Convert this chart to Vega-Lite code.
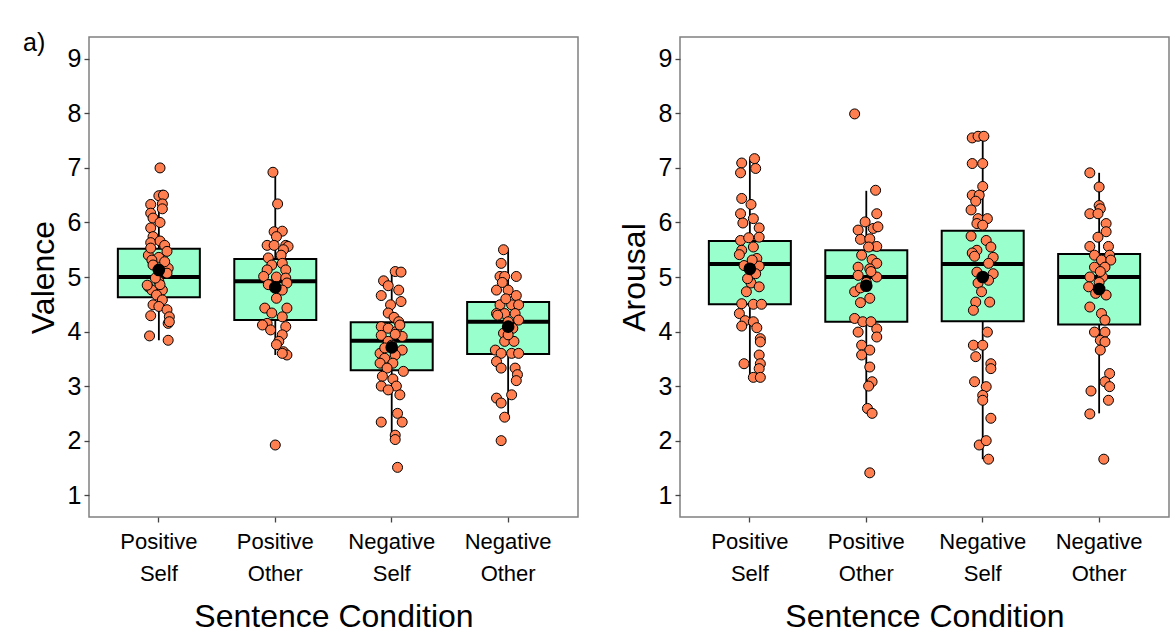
{
  "$schema": "https://vega.github.io/schema/vega-lite/v6.json",
  "background": "white",
  "padding": {"left": 22, "top": 30, "right": 4, "bottom": 0},
  "config": {
    "font": "Liberation Sans",
    "view": {"stroke": "#808080", "strokeWidth": 1.5},
    "axis": {"grid": false, "domain": false, "tickColor": "#444444", "tickSize": 5, "tickWidth": 1.3, "labelColor": "black", "titleColor": "black", "labelFont": "Liberation Sans", "titleFont": "Liberation Sans", "titleFontWeight": "normal"},
    "axisY": {"labelFontSize": 25, "titleFontSize": 32, "titlePadding": 7, "labelPadding": 3},
    "axisX": {"labelFontSize": 22, "titleFontSize": 32, "titlePadding": 17, "labelPadding": 9, "labelAngle": 0, "labelLineHeight": 32}
  },
  "datasets": {
    "valBox": [
      {"c": "Positive Self", "lo": 3.84, "q1": 4.63, "med": 5.0, "q3": 5.52, "hi": 6.5, "mean": 5.13},
      {"c": "Positive Other", "lo": 3.57, "q1": 4.21, "med": 4.92, "q3": 5.33, "hi": 6.92, "mean": 4.81},
      {"c": "Negative Self", "lo": 2.0, "q1": 3.29, "med": 3.83, "q3": 4.17, "hi": 5.1, "mean": 3.71},
      {"c": "Negative Other", "lo": 2.43, "q1": 3.59, "med": 4.18, "q3": 4.54, "hi": 5.5, "mean": 4.09}
    ],
    "aroBox": [
      {"c": "Positive Self", "lo": 3.16, "q1": 4.5, "med": 5.24, "q3": 5.66, "hi": 7.17, "mean": 5.15},
      {"c": "Positive Other", "lo": 2.5, "q1": 4.18, "med": 5.0, "q3": 5.49, "hi": 6.58, "mean": 4.84},
      {"c": "Negative Self", "lo": 1.66, "q1": 4.19, "med": 5.24, "q3": 5.85, "hi": 7.58, "mean": 5.0},
      {"c": "Negative Other", "lo": 2.5, "q1": 4.13, "med": 5.0, "q3": 5.42, "hi": 6.91, "mean": 4.78}
    ],
    "valPts": [
      {"c":"Positive Self","v":7.0,"j":0.01},{"c":"Positive Self","v":6.5,"j":0.03},{"c":"Positive Self","v":6.49,"j":0.0},{"c":"Positive Self","v":6.5,"j":0.04},{"c":"Positive Self","v":6.33,"j":-0.07},{"c":"Positive Self","v":6.34,"j":0.03},{"c":"Positive Self","v":6.25,"j":0.03},{"c":"Positive Self","v":6.17,"j":-0.07},{"c":"Positive Self","v":6.08,"j":-0.05},{"c":"Positive Self","v":6.0,"j":0.01},{"c":"Positive Self","v":5.9,"j":-0.07},{"c":"Positive Self","v":5.74,"j":-0.05},{"c":"Positive Self","v":5.63,"j":-0.07},{"c":"Positive Self","v":5.66,"j":0.01},{"c":"Positive Self","v":5.58,"j":0.05},{"c":"Positive Self","v":5.47,"j":0.07},{"c":"Positive Self","v":5.4,"j":-0.09},{"c":"Positive Self","v":5.36,"j":0.0},{"c":"Positive Self","v":5.31,"j":-0.06},{"c":"Positive Self","v":5.16,"j":0.08},{"c":"Positive Self","v":5.07,"j":0.07},{"c":"Positive Self","v":4.82,"j":-0.09},{"c":"Positive Self","v":4.92,"j":0.0},{"c":"Positive Self","v":4.76,"j":-0.06},{"c":"Positive Self","v":4.76,"j":0.03},{"c":"Positive Self","v":4.67,"j":-0.02},{"c":"Positive Self","v":4.58,"j":0.03},{"c":"Positive Self","v":4.49,"j":-0.05},{"c":"Positive Self","v":4.46,"j":0.0},{"c":"Positive Self","v":4.4,"j":0.07},{"c":"Positive Self","v":4.27,"j":0.09},{"c":"Positive Self","v":4.29,"j":-0.07},{"c":"Positive Self","v":4.15,"j":0.08},{"c":"Positive Self","v":4.18,"j":0.09},{"c":"Positive Self","v":3.92,"j":-0.08},{"c":"Positive Self","v":3.84,"j":0.08},{"c":"Positive Self","v":5.53,"j":-0.07},{"c":"Positive Self","v":5.22,"j":-0.05},{"c":"Positive Self","v":5.28,"j":0.05},{"c":"Positive Self","v":4.85,"j":-0.1},{"c":"Positive Self","v":4.86,"j":0.01},{"c":"Positive Self","v":4.98,"j":-0.03},
      {"c":"Positive Other","v":6.92,"j":-0.02},{"c":"Positive Other","v":6.34,"j":0.02},{"c":"Positive Other","v":5.83,"j":-0.01},{"c":"Positive Other","v":5.84,"j":0.06},{"c":"Positive Other","v":5.74,"j":0.01},{"c":"Positive Other","v":5.58,"j":-0.07},{"c":"Positive Other","v":5.58,"j":-0.01},{"c":"Positive Other","v":5.58,"j":0.09},{"c":"Positive Other","v":5.56,"j":0.11},{"c":"Positive Other","v":5.5,"j":0.07},{"c":"Positive Other","v":5.35,"j":-0.06},{"c":"Positive Other","v":5.4,"j":0.05},{"c":"Positive Other","v":5.22,"j":-0.03},{"c":"Positive Other","v":5.25,"j":0.06},{"c":"Positive Other","v":5.13,"j":-0.07},{"c":"Positive Other","v":5.13,"j":0.09},{"c":"Positive Other","v":5.01,"j":-0.1},{"c":"Positive Other","v":5.0,"j":0.01},{"c":"Positive Other","v":4.98,"j":0.09},{"c":"Positive Other","v":4.86,"j":-0.06},{"c":"Positive Other","v":4.89,"j":0.1},{"c":"Positive Other","v":4.76,"j":0.06},{"c":"Positive Other","v":4.61,"j":0.01},{"c":"Positive Other","v":4.43,"j":-0.09},{"c":"Positive Other","v":4.43,"j":0.1},{"c":"Positive Other","v":4.34,"j":-0.03},{"c":"Positive Other","v":4.27,"j":0.06},{"c":"Positive Other","v":4.15,"j":-0.07},{"c":"Positive Other","v":4.12,"j":-0.11},{"c":"Positive Other","v":4.09,"j":0.09},{"c":"Positive Other","v":4.03,"j":-0.04},{"c":"Positive Other","v":3.94,"j":0.06},{"c":"Positive Other","v":3.82,"j":0.03},{"c":"Positive Other","v":3.76,"j":0.01},{"c":"Positive Other","v":3.63,"j":0.07},{"c":"Positive Other","v":3.57,"j":0.1},{"c":"Positive Other","v":3.6,"j":0.06},{"c":"Positive Other","v":1.92,"j":0.0},
      {"c":"Negative Self","v":5.1,"j":0.03},{"c":"Negative Self","v":5.09,"j":0.08},{"c":"Negative Self","v":4.93,"j":-0.07},{"c":"Negative Self","v":4.84,"j":-0.03},{"c":"Negative Self","v":4.76,"j":0.06},{"c":"Negative Self","v":4.66,"j":-0.09},{"c":"Negative Self","v":4.55,"j":0.08},{"c":"Negative Self","v":4.49,"j":-0.01},{"c":"Negative Self","v":4.34,"j":-0.03},{"c":"Negative Self","v":4.26,"j":0.02},{"c":"Negative Self","v":4.18,"j":0.06},{"c":"Negative Self","v":4.09,"j":-0.09},{"c":"Negative Self","v":4.06,"j":-0.03},{"c":"Negative Self","v":4.0,"j":0.04},{"c":"Negative Self","v":3.93,"j":-0.09},{"c":"Negative Self","v":3.91,"j":0.09},{"c":"Negative Self","v":3.82,"j":-0.03},{"c":"Negative Self","v":3.66,"j":0.09},{"c":"Negative Self","v":3.6,"j":-0.1},{"c":"Negative Self","v":3.57,"j":0.03},{"c":"Negative Self","v":3.51,"j":-0.06},{"c":"Negative Self","v":3.42,"j":-0.1},{"c":"Negative Self","v":3.42,"j":0.01},{"c":"Negative Self","v":3.33,"j":-0.04},{"c":"Negative Self","v":3.27,"j":0.1},{"c":"Negative Self","v":3.18,"j":-0.08},{"c":"Negative Self","v":3.13,"j":0.01},{"c":"Negative Self","v":3.0,"j":-0.09},{"c":"Negative Self","v":3.0,"j":0.04},{"c":"Negative Self","v":2.93,"j":-0.03},{"c":"Negative Self","v":2.84,"j":0.07},{"c":"Negative Self","v":2.5,"j":0.05},{"c":"Negative Self","v":2.34,"j":-0.09},{"c":"Negative Self","v":2.34,"j":0.09},{"c":"Negative Self","v":2.1,"j":0.03},{"c":"Negative Self","v":2.02,"j":0.03},{"c":"Negative Self","v":1.51,"j":0.05},{"c":"Negative Self","v":3.75,"j":0.0},{"c":"Negative Self","v":3.7,"j":-0.06},{"c":"Negative Self","v":3.95,"j":0.03},{"c":"Negative Self","v":4.12,"j":0.07},
      {"c":"Negative Other","v":5.5,"j":-0.04},{"c":"Negative Other","v":5.25,"j":-0.06},{"c":"Negative Other","v":5.01,"j":-0.07},{"c":"Negative Other","v":5.01,"j":-0.03},{"c":"Negative Other","v":5.01,"j":0.07},{"c":"Negative Other","v":4.76,"j":-0.1},{"c":"Negative Other","v":4.76,"j":0.0},{"c":"Negative Other","v":4.66,"j":0.07},{"c":"Negative Other","v":4.49,"j":-0.07},{"c":"Negative Other","v":4.49,"j":0.03},{"c":"Negative Other","v":4.49,"j":0.09},{"c":"Negative Other","v":4.33,"j":-0.1},{"c":"Negative Other","v":4.33,"j":-0.03},{"c":"Negative Other","v":4.33,"j":0.06},{"c":"Negative Other","v":4.21,"j":0.09},{"c":"Negative Other","v":3.97,"j":-0.04},{"c":"Negative Other","v":3.82,"j":-0.03},{"c":"Negative Other","v":3.82,"j":0.05},{"c":"Negative Other","v":3.66,"j":-0.11},{"c":"Negative Other","v":3.6,"j":-0.06},{"c":"Negative Other","v":3.6,"j":0.03},{"c":"Negative Other","v":3.6,"j":0.09},{"c":"Negative Other","v":3.45,"j":-0.1},{"c":"Negative Other","v":3.33,"j":-0.06},{"c":"Negative Other","v":3.33,"j":0.06},{"c":"Negative Other","v":3.21,"j":0.08},{"c":"Negative Other","v":3.1,"j":0.07},{"c":"Negative Other","v":2.78,"j":-0.1},{"c":"Negative Other","v":2.84,"j":0.03},{"c":"Negative Other","v":2.69,"j":-0.06},{"c":"Negative Other","v":2.43,"j":-0.03},{"c":"Negative Other","v":2.0,"j":-0.06},{"c":"Negative Other","v":4.18,"j":0.0},{"c":"Negative Other","v":4.06,"j":0.04},{"c":"Negative Other","v":3.94,"j":0.0},{"c":"Negative Other","v":4.3,"j":-0.09},{"c":"Negative Other","v":4.9,"j":-0.05},{"c":"Negative Other","v":4.6,"j":-0.02}
    ],
    "aroPts": [
      {"c":"Positive Self","v":7.17,"j":0.04},{"c":"Positive Self","v":7.09,"j":-0.07},{"c":"Positive Self","v":6.99,"j":0.05},{"c":"Positive Self","v":6.91,"j":-0.08},{"c":"Positive Self","v":6.44,"j":-0.07},{"c":"Positive Self","v":6.33,"j":0.01},{"c":"Positive Self","v":6.16,"j":-0.08},{"c":"Positive Self","v":6.07,"j":0.03},{"c":"Positive Self","v":5.99,"j":-0.06},{"c":"Positive Self","v":5.9,"j":0.08},{"c":"Positive Self","v":5.67,"j":-0.08},{"c":"Positive Self","v":5.72,"j":-0.01},{"c":"Positive Self","v":5.73,"j":0.08},{"c":"Positive Self","v":5.49,"j":-0.07},{"c":"Positive Self","v":5.55,"j":0.03},{"c":"Positive Self","v":5.41,"j":-0.09},{"c":"Positive Self","v":5.34,"j":0.06},{"c":"Positive Self","v":5.21,"j":-0.05},{"c":"Positive Self","v":5.2,"j":0.08},{"c":"Positive Self","v":4.89,"j":0.01},{"c":"Positive Self","v":4.82,"j":0.08},{"c":"Positive Self","v":4.73,"j":-0.03},{"c":"Positive Self","v":4.51,"j":-0.07},{"c":"Positive Self","v":4.5,"j":0.03},{"c":"Positive Self","v":4.5,"j":0.1},{"c":"Positive Self","v":4.33,"j":-0.09},{"c":"Positive Self","v":4.2,"j":-0.04},{"c":"Positive Self","v":4.18,"j":0.03},{"c":"Positive Self","v":4.1,"j":-0.07},{"c":"Positive Self","v":4.07,"j":0.06},{"c":"Positive Self","v":3.87,"j":0.09},{"c":"Positive Self","v":3.81,"j":0.09},{"c":"Positive Self","v":3.57,"j":0.08},{"c":"Positive Self","v":3.41,"j":-0.05},{"c":"Positive Self","v":3.41,"j":0.09},{"c":"Positive Self","v":3.32,"j":0.08},{"c":"Positive Self","v":3.16,"j":0.03},{"c":"Positive Self","v":3.16,"j":0.09},{"c":"Positive Self","v":5.31,"j":0.02},{"c":"Positive Self","v":5.06,"j":0.05},{"c":"Positive Self","v":4.97,"j":-0.02},
      {"c":"Positive Other","v":7.99,"j":-0.1},{"c":"Positive Other","v":6.59,"j":0.08},{"c":"Positive Other","v":6.16,"j":0.09},{"c":"Positive Other","v":6.01,"j":-0.01},{"c":"Positive Other","v":5.86,"j":-0.07},{"c":"Positive Other","v":5.89,"j":0.06},{"c":"Positive Other","v":5.92,"j":0.1},{"c":"Positive Other","v":5.69,"j":-0.05},{"c":"Positive Other","v":5.7,"j":0.03},{"c":"Positive Other","v":5.56,"j":0.09},{"c":"Positive Other","v":5.55,"j":0.02},{"c":"Positive Other","v":5.4,"j":-0.04},{"c":"Positive Other","v":5.32,"j":0.05},{"c":"Positive Other","v":5.25,"j":0.09},{"c":"Positive Other","v":5.18,"j":-0.07},{"c":"Positive Other","v":5.15,"j":0.03},{"c":"Positive Other","v":5.03,"j":-0.07},{"c":"Positive Other","v":5.0,"j":0.09},{"c":"Positive Other","v":4.73,"j":-0.1},{"c":"Positive Other","v":4.61,"j":0.03},{"c":"Positive Other","v":4.53,"j":-0.05},{"c":"Positive Other","v":4.24,"j":-0.1},{"c":"Positive Other","v":4.18,"j":-0.03},{"c":"Positive Other","v":4.18,"j":0.04},{"c":"Positive Other","v":4.05,"j":0.09},{"c":"Positive Other","v":3.99,"j":-0.07},{"c":"Positive Other","v":3.9,"j":0.09},{"c":"Positive Other","v":3.75,"j":-0.04},{"c":"Positive Other","v":3.66,"j":0.03},{"c":"Positive Other","v":3.57,"j":-0.04},{"c":"Positive Other","v":3.35,"j":0.03},{"c":"Positive Other","v":3.08,"j":0.05},{"c":"Positive Other","v":3.0,"j":0.02},{"c":"Positive Other","v":2.59,"j":0.01},{"c":"Positive Other","v":2.5,"j":0.05},{"c":"Positive Other","v":1.41,"j":0.03},{"c":"Positive Other","v":4.9,"j":0.0},{"c":"Positive Other","v":4.8,"j":-0.05},{"c":"Positive Other","v":5.1,"j":0.04},
      {"c":"Negative Self","v":7.55,"j":-0.09},{"c":"Negative Self","v":7.58,"j":-0.04},{"c":"Negative Self","v":7.58,"j":0.01},{"c":"Negative Self","v":7.08,"j":-0.09},{"c":"Negative Self","v":7.08,"j":0.0},{"c":"Negative Self","v":6.66,"j":0.0},{"c":"Negative Self","v":6.5,"j":-0.09},{"c":"Negative Self","v":6.5,"j":-0.03},{"c":"Negative Self","v":6.39,"j":-0.06},{"c":"Negative Self","v":6.23,"j":-0.1},{"c":"Negative Self","v":6.07,"j":-0.04},{"c":"Negative Self","v":6.07,"j":0.04},{"c":"Negative Self","v":5.98,"j":-0.05},{"c":"Negative Self","v":5.95,"j":0.0},{"c":"Negative Self","v":5.75,"j":-0.1},{"c":"Negative Self","v":5.67,"j":0.03},{"c":"Negative Self","v":5.55,"j":0.07},{"c":"Negative Self","v":5.49,"j":-0.05},{"c":"Negative Self","v":5.44,"j":-0.09},{"c":"Negative Self","v":5.36,"j":0.09},{"c":"Negative Self","v":5.38,"j":-0.07},{"c":"Negative Self","v":5.25,"j":0.05},{"c":"Negative Self","v":5.09,"j":-0.05},{"c":"Negative Self","v":5.06,"j":0.09},{"c":"Negative Self","v":4.89,"j":-0.04},{"c":"Negative Self","v":4.94,"j":0.05},{"c":"Negative Self","v":4.73,"j":-0.01},{"c":"Negative Self","v":4.54,"j":-0.06},{"c":"Negative Self","v":4.54,"j":0.06},{"c":"Negative Self","v":4.39,"j":-0.08},{"c":"Negative Self","v":3.99,"j":0.04},{"c":"Negative Self","v":3.75,"j":-0.08},{"c":"Negative Self","v":3.75,"j":0.0},{"c":"Negative Self","v":3.54,"j":-0.06},{"c":"Negative Self","v":3.41,"j":0.07},{"c":"Negative Self","v":3.32,"j":0.07},{"c":"Negative Self","v":3.08,"j":-0.07},{"c":"Negative Self","v":2.99,"j":0.03},{"c":"Negative Self","v":2.83,"j":0.0},{"c":"Negative Self","v":2.74,"j":0.0},{"c":"Negative Self","v":2.41,"j":0.07},{"c":"Negative Self","v":1.92,"j":-0.03},{"c":"Negative Self","v":2.0,"j":0.03},{"c":"Negative Self","v":1.66,"j":0.05},
      {"c":"Negative Other","v":6.91,"j":-0.08},{"c":"Negative Other","v":6.65,"j":0.0},{"c":"Negative Other","v":6.31,"j":0.0},{"c":"Negative Other","v":6.25,"j":0.01},{"c":"Negative Other","v":6.16,"j":-0.08},{"c":"Negative Other","v":6.16,"j":-0.01},{"c":"Negative Other","v":5.98,"j":0.06},{"c":"Negative Other","v":5.83,"j":0.06},{"c":"Negative Other","v":5.73,"j":-0.01},{"c":"Negative Other","v":5.56,"j":-0.08},{"c":"Negative Other","v":5.56,"j":0.08},{"c":"Negative Other","v":5.4,"j":-0.04},{"c":"Negative Other","v":5.4,"j":0.09},{"c":"Negative Other","v":5.31,"j":0.02},{"c":"Negative Other","v":5.31,"j":0.1},{"c":"Negative Other","v":5.18,"j":-0.04},{"c":"Negative Other","v":5.18,"j":0.05},{"c":"Negative Other","v":5.0,"j":-0.08},{"c":"Negative Other","v":5.0,"j":0.03},{"c":"Negative Other","v":4.82,"j":-0.09},{"c":"Negative Other","v":4.67,"j":0.06},{"c":"Negative Other","v":4.45,"j":-0.08},{"c":"Negative Other","v":4.33,"j":0.02},{"c":"Negative Other","v":4.21,"j":0.05},{"c":"Negative Other","v":3.99,"j":-0.04},{"c":"Negative Other","v":3.99,"j":0.05},{"c":"Negative Other","v":3.84,"j":0.01},{"c":"Negative Other","v":3.81,"j":0.05},{"c":"Negative Other","v":3.66,"j":0.01},{"c":"Negative Other","v":3.23,"j":0.09},{"c":"Negative Other","v":3.08,"j":0.05},{"c":"Negative Other","v":2.99,"j":0.09},{"c":"Negative Other","v":2.91,"j":-0.07},{"c":"Negative Other","v":2.74,"j":0.08},{"c":"Negative Other","v":2.49,"j":-0.08},{"c":"Negative Other","v":1.66,"j":0.04},{"c":"Negative Other","v":4.9,"j":0.0},{"c":"Negative Other","v":4.7,"j":-0.03},{"c":"Negative Other","v":5.1,"j":0.01}
    ]
  },
  "bounds": "flush",
  "spacing": 102,
  "hconcat": [
    {
      "width": 489,
      "height": 480,
      "title": {"text": "a)", "anchor": "start", "frame": "group", "orient": "top", "offset": 0, "dx": -66, "dy": 39, "baseline": "alphabetic", "fontSize": 25, "fontWeight": "normal", "font": "Liberation Sans", "color": "black"},
      "encoding": {
        "x": {"field": "c", "type": "nominal", "sort": ["Positive Self", "Positive Other", "Negative Self", "Negative Other"], "scale": {"type": "band", "paddingInner": 0, "paddingOuter": 0.1},
          "axis": {"title": "Sentence Condition", "labelExpr": "split(datum.value, ' ')"}}
      },
      "layer": [
        {"data": {"name": "valBox"}, "mark": {"type": "rule", "color": "black", "strokeWidth": 1.8},
          "encoding": {"y": {"field": "lo", "type": "quantitative", "scale": {"domain": [0.6, 9.4], "nice": false, "zero": false}, "axis": {"title": "Valence", "values": [1,2,3,4,5,6,7,8,9]}}, "y2": {"field": "hi"}}},
        {"data": {"name": "valBox"}, "mark": {"type": "bar", "fill": "#99FFCC", "stroke": "black", "strokeWidth": 2, "size": 82},
          "encoding": {"y": {"field": "q1", "type": "quantitative"}, "y2": {"field": "q3"}}},
        {"data": {"name": "valBox"}, "mark": {"type": "tick", "color": "black", "thickness": 4, "size": 82, "opacity": 1},
          "encoding": {"y": {"field": "med", "type": "quantitative"}}},
        {"data": {"name": "valPts"}, "mark": {"type": "circle", "fill": "#FF7F50", "stroke": "black", "strokeWidth": 1, "size": 100, "opacity": 1},
          "encoding": {"xOffset": {"field": "j", "type": "quantitative", "scale": {"domain": [-0.5, 0.5], "range": [0, 116.43]}}, "y": {"field": "v", "type": "quantitative"}}},
        {"data": {"name": "valBox"}, "mark": {"type": "circle", "color": "black", "size": 160, "opacity": 1},
          "encoding": {"y": {"field": "mean", "type": "quantitative"}}}
      ]
    },
    {
      "width": 489,
      "height": 480,
      "encoding": {
        "x": {"field": "c", "type": "nominal", "sort": ["Positive Self", "Positive Other", "Negative Self", "Negative Other"], "scale": {"type": "band", "paddingInner": 0, "paddingOuter": 0.1},
          "axis": {"title": "Sentence Condition", "labelExpr": "split(datum.value, ' ')"}}
      },
      "layer": [
        {"data": {"name": "aroBox"}, "mark": {"type": "rule", "color": "black", "strokeWidth": 1.8},
          "encoding": {"y": {"field": "lo", "type": "quantitative", "scale": {"domain": [0.6, 9.4], "nice": false, "zero": false}, "axis": {"title": "Arousal", "values": [1,2,3,4,5,6,7,8,9]}}, "y2": {"field": "hi"}}},
        {"data": {"name": "aroBox"}, "mark": {"type": "bar", "fill": "#99FFCC", "stroke": "black", "strokeWidth": 2, "size": 82},
          "encoding": {"y": {"field": "q1", "type": "quantitative"}, "y2": {"field": "q3"}}},
        {"data": {"name": "aroBox"}, "mark": {"type": "tick", "color": "black", "thickness": 4, "size": 82, "opacity": 1},
          "encoding": {"y": {"field": "med", "type": "quantitative"}}},
        {"data": {"name": "aroPts"}, "mark": {"type": "circle", "fill": "#FF7F50", "stroke": "black", "strokeWidth": 1, "size": 100, "opacity": 1},
          "encoding": {"xOffset": {"field": "j", "type": "quantitative", "scale": {"domain": [-0.5, 0.5], "range": [0, 116.43]}}, "y": {"field": "v", "type": "quantitative"}}},
        {"data": {"name": "aroBox"}, "mark": {"type": "circle", "color": "black", "size": 160, "opacity": 1},
          "encoding": {"y": {"field": "mean", "type": "quantitative"}}}
      ]
    }
  ]
}
